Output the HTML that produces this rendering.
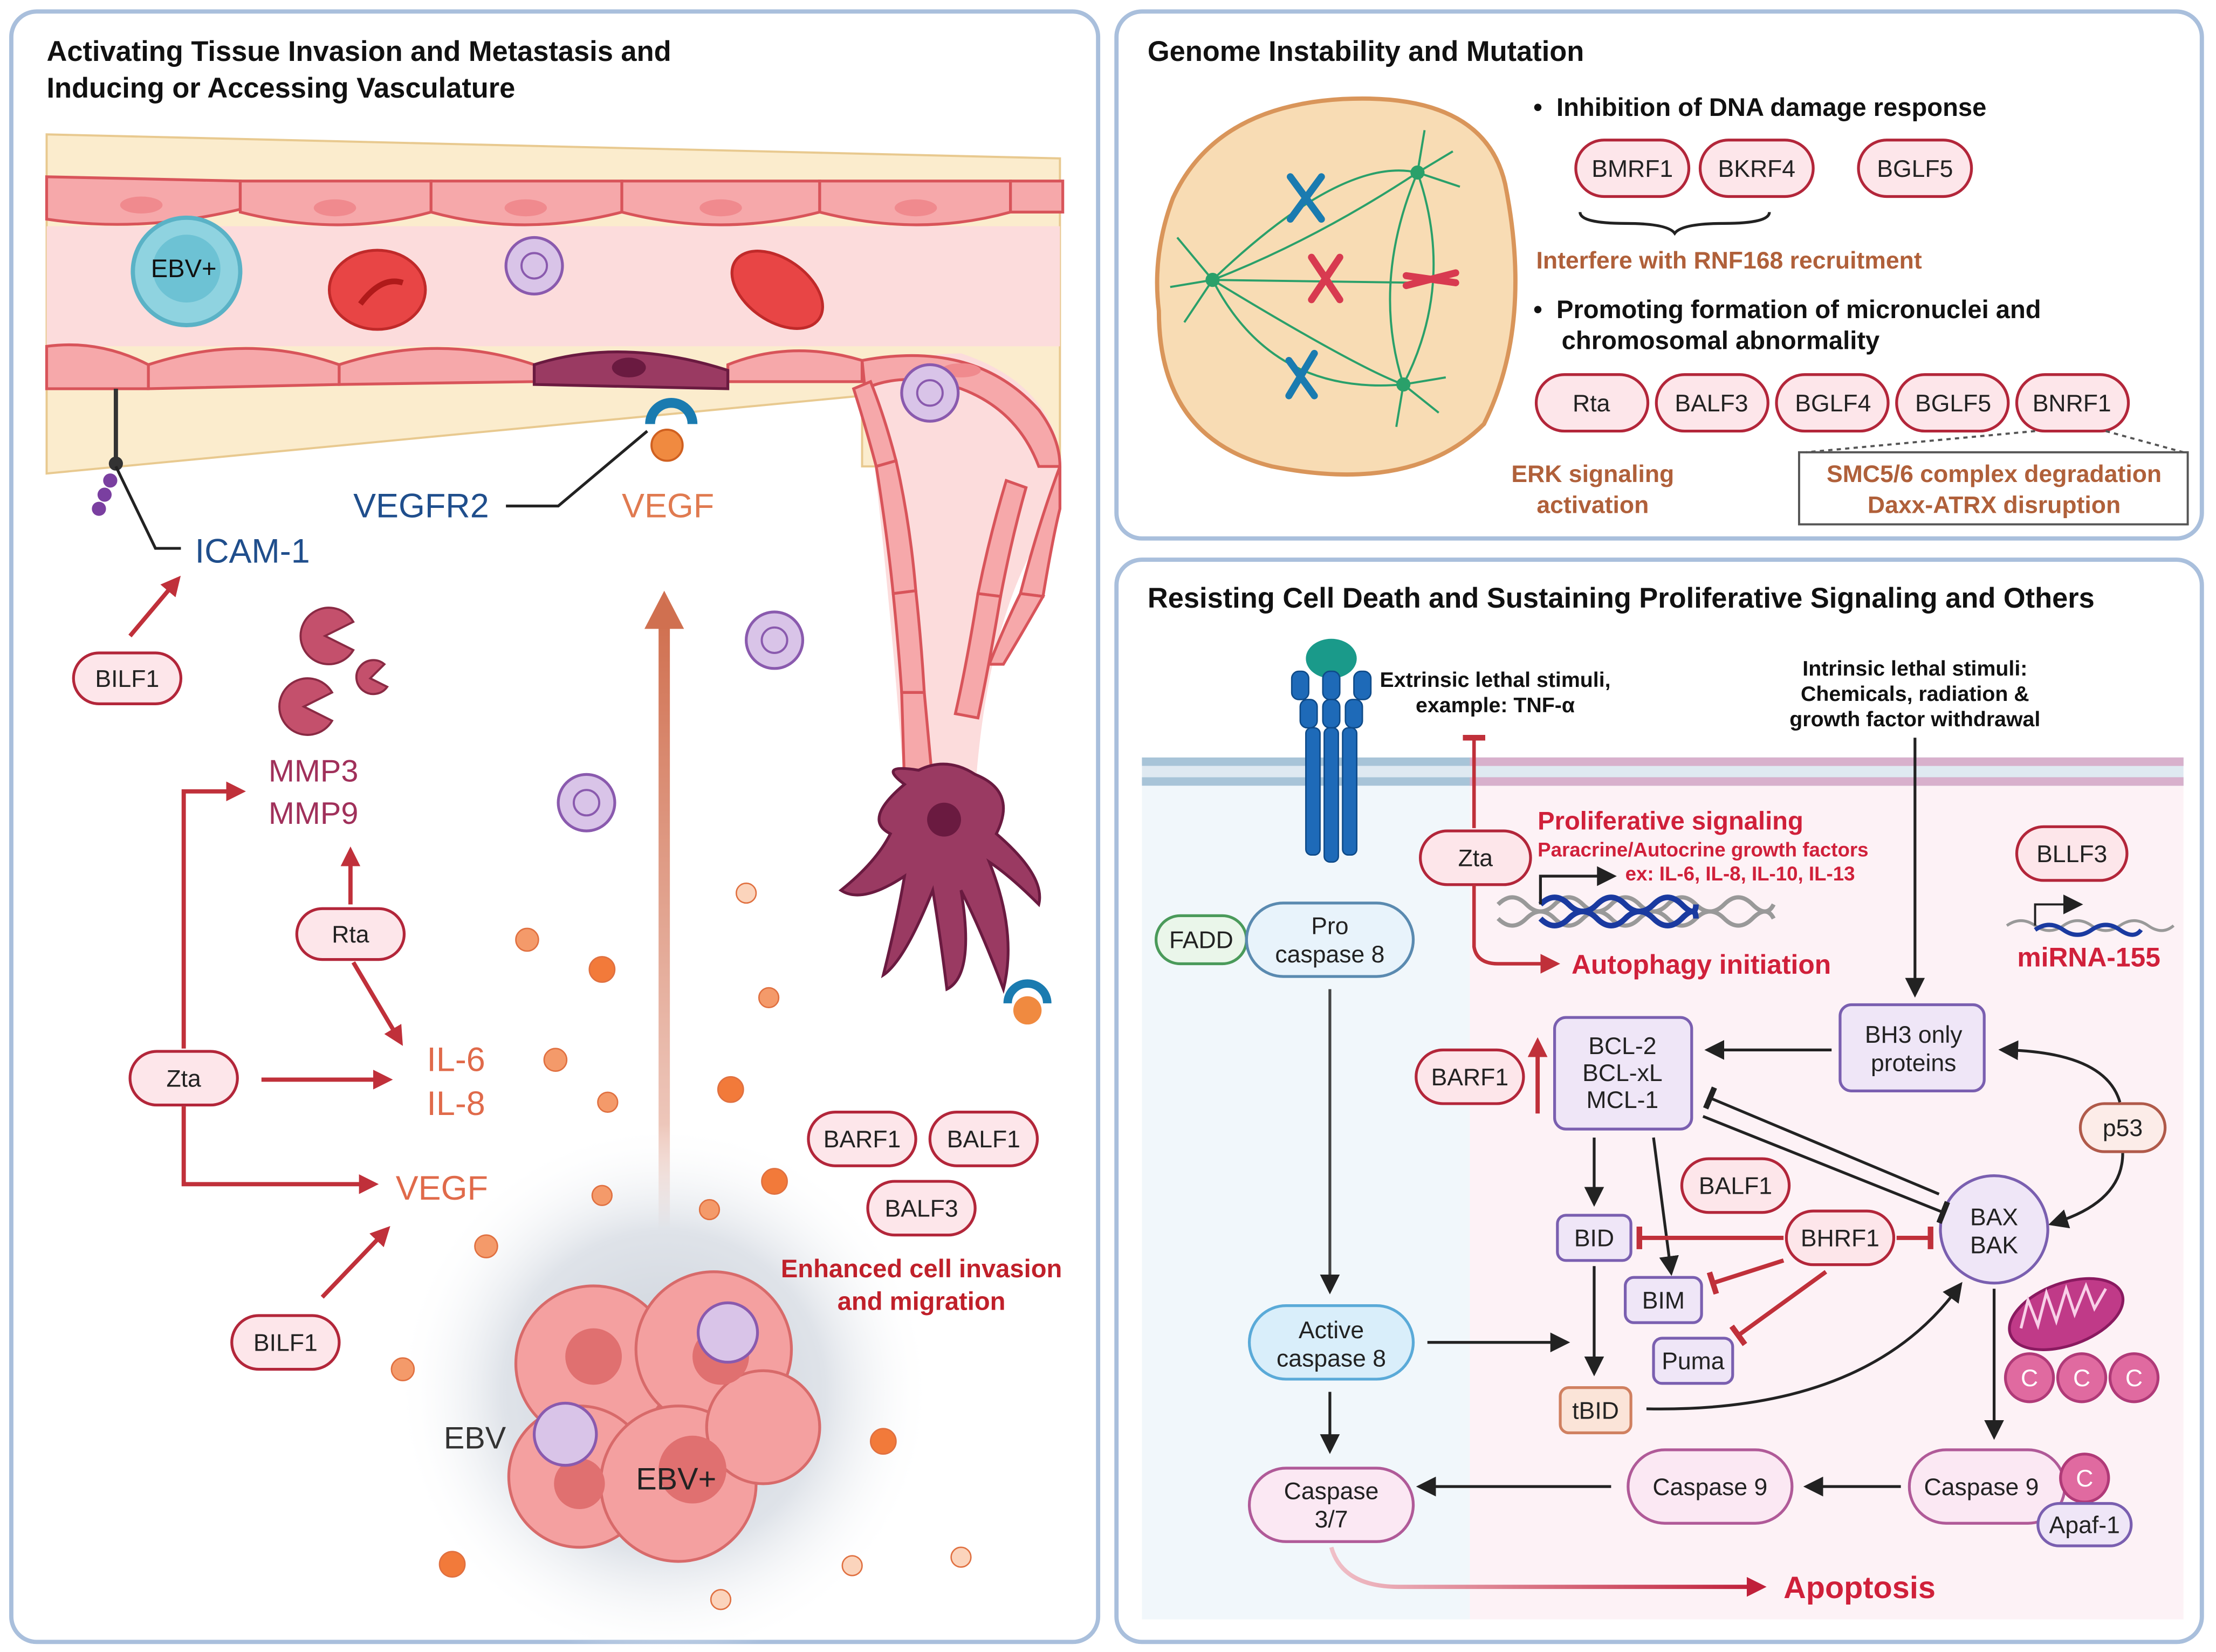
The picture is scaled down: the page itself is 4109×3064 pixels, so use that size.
<!DOCTYPE html>
<html><head><meta charset="utf-8"><style>
html,body{margin:0;padding:0;background:#fff;}
svg{display:block;}
text{font-family:"Liberation Sans",Arial,sans-serif;}
.t{font-weight:bold;font-size:20px;fill:#111;}
.pl{fill:#fde6ea;stroke:#b3263a;stroke-width:2;}
.pt{font-size:17px;fill:#222;text-anchor:middle;}
.ar{stroke:#c0303a;stroke-width:3;fill:none;}
.bk{stroke:#222;stroke-width:2;fill:none;}
.bx{fill:#efe6f7;stroke:#7a5fb0;stroke-width:2;}
</style></head><body>
<svg width="4109" height="3064" viewBox="0 0 1568 1169" xmlns="http://www.w3.org/2000/svg">
<defs>
<marker id="ra2" markerWidth="14" markerHeight="14" refX="8" refY="7" orient="auto" markerUnits="userSpaceOnUse"><path d="M0,0 L14,7 L0,14z" fill="#c0303a"/></marker>
<marker id="ba" markerWidth="14" markerHeight="14" refX="8" refY="7" orient="auto" markerUnits="userSpaceOnUse"><path d="M0,0 L14,7 L0,14z" fill="#222"/></marker>
<marker id="rt" markerWidth="4" markerHeight="16" refX="2" refY="8" orient="auto" markerUnits="userSpaceOnUse"><rect x="0" y="0" width="4" height="16" fill="#c0303a"/></marker>
<marker id="bt" markerWidth="4" markerHeight="16" refX="2" refY="8" orient="auto" markerUnits="userSpaceOnUse"><rect x="0" y="0" width="4" height="16" fill="#222"/></marker>
<radialGradient id="halo"><stop offset="0" stop-color="#c9cfd8"/><stop offset="0.6" stop-color="#dfe3e9"/><stop offset="1" stop-color="#fff" stop-opacity="0"/></radialGradient>
<linearGradient id="bigar" x1="0" y1="1" x2="0" y2="0"><stop offset="0" stop-color="#d9846a" stop-opacity="0.3"/><stop offset="1" stop-color="#d07050"/></linearGradient>
<linearGradient id="apo" x1="0" x2="1"><stop offset="0" stop-color="#f0c0c8"/><stop offset="1" stop-color="#c0203a"/></linearGradient>
</defs>
<rect width="1568" height="1169" fill="#fff"/>
<rect x="8" y="8" width="769" height="1154" rx="18" fill="#fff" stroke="#a9bfdc" stroke-width="3"/>
<rect x="790" y="8" width="768" height="373" rx="18" fill="#fff" stroke="#a9bfdc" stroke-width="3"/>
<rect x="790" y="396" width="768" height="766" rx="18" fill="#fff" stroke="#a9bfdc" stroke-width="3"/>

<text class="t" x="33" y="43">Activating Tissue Invasion and Metastasis and</text>
<text class="t" x="33" y="69">Inducing or Accessing Vasculature</text>
<path d="M33,95 Q400,105 750,112 L750,330 L610,330 L610,280 Q400,300 33,335 Z" fill="#fbeccd" stroke="#e8c98f" stroke-width="1.5"/>
<rect x="33" y="160" width="717" height="85" fill="#fcdcdc"/>
<!-- vertical vessel lumen -->
<path d="M612,270 Q640,250 680,250 Q740,270 750,320 L750,360 Q700,420 690,560 L640,560 Q630,420 612,270Z" fill="#fcdcdc"/>
<g fill="#f6a8aa" stroke="#d8545a" stroke-width="2">
<path d="M33,125 L170,128 L170,148 Q100,165 33,155Z"/><path d="M170,128 L305,128 L305,150 Q240,168 170,150Z"/>
<path d="M305,128 L440,128 L440,150 Q370,168 305,150Z"/><path d="M440,128 L580,128 L580,150 Q510,168 440,150Z"/>
<path d="M580,128 L715,128 L715,150 Q650,168 580,150Z"/><path d="M715,128 L752,128 L752,150 L715,150Z"/>
</g>
<g fill="#f08a8e"><ellipse cx="100" cy="145" rx="15" ry="6"/><ellipse cx="237" cy="147" rx="15" ry="6"/><ellipse cx="372" cy="147" rx="15" ry="6"/><ellipse cx="510" cy="147" rx="15" ry="6"/><ellipse cx="648" cy="147" rx="15" ry="6"/></g>
<g fill="#f6a8aa" stroke="#d8545a" stroke-width="2">
<path d="M33,245 Q70,240 105,258 L105,275 L33,275Z"/><path d="M105,258 Q175,235 240,258 L240,272 L105,275Z"/>
<path d="M240,258 Q310,235 378,258 L378,270 L240,272Z"/><path d="M515,258 Q560,240 610,255 L610,270 L515,270Z"/>
<path d="M610,255 Q690,240 735,290 Q750,310 750,330 L735,330 Q720,290 680,275 Q640,262 612,275 Z"/>
<!-- left wall cells -->
<path d="M604,275 Q612,300 620,330 L634,326 Q626,295 616,270Z"/>
<path d="M620,330 Q628,380 632,420 L648,418 Q644,370 634,326Z"/>
<path d="M632,420 Q636,460 638,490 L654,490 Q652,455 648,418Z"/>
<path d="M638,490 L640,555 L660,555 L654,490Z"/>
<!-- right wall cells -->
<path d="M750,330 Q735,370 722,420 L738,422 Q745,380 750,360Z"/>
<path d="M712,340 Q700,380 692,420 L708,422 Q716,380 726,345Z"/>
<path d="M692,420 Q684,470 676,505 L692,508 Q700,470 708,422Z"/>
<path d="M722,420 Q712,440 700,470 L710,470 Q725,445 738,422Z"/>
</g>
<ellipse cx="680" cy="262" rx="14" ry="5" fill="#f08a8e"/>
<path d="M378,258 Q440,238 515,262 L515,275 L378,272Z" fill="#9a3a62" stroke="#6a1a40" stroke-width="2"/>
<ellipse cx="445" cy="260" rx="12" ry="7" fill="#6a1a40"/>
<circle cx="132" cy="192" r="38" fill="#8fd3e0" stroke="#5ab2c6" stroke-width="3"/>
<circle cx="132" cy="190" r="24" fill="#6dc2d4"/>
<text x="130" y="196" font-size="18" text-anchor="middle" fill="#111">EBV+</text>
<ellipse cx="267" cy="205" rx="34" ry="28" fill="#e84545" stroke="#c02a2a" stroke-width="2"/>
<path d="M255,215 Q270,195 285,200" stroke="#b01a1a" stroke-width="4" fill="none"/>
<ellipse cx="550" cy="205" rx="36" ry="22" transform="rotate(35 550 205)" fill="#e84545" stroke="#c02a2a" stroke-width="2"/>
<g fill="#d9c4e8" stroke="#8a5aae" stroke-width="2">
<circle cx="378" cy="188" r="20"/><circle cx="658" cy="278" r="20"/><circle cx="548" cy="453" r="20"/><circle cx="415" cy="568" r="20"/>
</g>
<g fill="none" stroke="#8a5aae" stroke-width="1.5">
<circle cx="378" cy="188" r="9"/><circle cx="658" cy="278" r="9"/><circle cx="548" cy="453" r="9"/><circle cx="415" cy="568" r="9"/>
</g>
<line x1="82" y1="275" x2="82" y2="330" stroke="#333" stroke-width="3"/>
<circle cx="82" cy="328" r="5" fill="#333"/>
<circle cx="78" cy="340" r="5" fill="#7a3fa0"/><circle cx="74" cy="350" r="5" fill="#7a3fa0"/><circle cx="70" cy="360" r="5" fill="#7a3fa0"/>
<path d="M82,330 L110,388 L128,388" class="bk"/>
<text x="138" y="398" font-size="24" fill="#1f4e8c">ICAM-1</text>
<path d="M460,300 A15,15 0 1,1 490,300" fill="none" stroke="#1a7bb0" stroke-width="7"/>
<circle cx="472" cy="315" r="11" fill="#f08a40" stroke="#d06020" stroke-width="1.5"/>
<path d="M458,305 L395,358 L358,358" class="bk"/>
<text x="250" y="366" font-size="24" fill="#1f4e8c">VEGFR2</text>
<text x="440" y="366" font-size="24" fill="#e07a50">VEGF</text>
<path d="M640,555 Q620,540 650,545 Q670,535 690,548 Q720,560 705,590 Q740,620 735,640 Q715,620 700,610 Q720,660 710,700 Q695,660 680,630 Q690,690 670,700 Q665,660 660,630 Q640,680 625,690 Q635,650 640,620 Q610,640 595,630 Q620,610 630,590 Q610,580 640,555Z" fill="#9a3a62" stroke="#6a1a40" stroke-width="2"/>
<circle cx="668" cy="580" r="12" fill="#6a1a40"/>
<path d="M713,710 A14,14 0 1,1 741,710" fill="none" stroke="#1a7bb0" stroke-width="6"/>
<circle cx="727" cy="715" r="10" fill="#f08a40"/>
<g fill="#c4506c" stroke="#8a2a44" stroke-width="1.5">
<path d="M230,450 L250,440 A20,20 0 1,0 250,460Z"/><path d="M215,500 L235,490 A20,20 0 1,0 235,510Z"/><path d="M262,480 L272,470 A12,12 0 1,0 274,486Z"/>
</g>
<text x="190" y="553" font-size="22" fill="#a0305a">MMP3</text>
<text x="190" y="583" font-size="22" fill="#a0305a">MMP9</text>
<g><rect class="pl" x="52" y="462" width="76" height="36" rx="18"/><text class="pt" x="90" y="486">BILF1</text></g>
<g><rect class="pl" x="210" y="643" width="76" height="36" rx="18"/><text class="pt" x="248" y="667">Rta</text></g>
<g><rect class="pl" x="92" y="744" width="76" height="38" rx="19"/><text class="pt" x="130" y="769">Zta</text></g>
<g><rect class="pl" x="164" y="931" width="76" height="38" rx="19"/><text class="pt" x="202" y="956">BILF1</text></g>
<text x="302" y="758" font-size="24" fill="#e06a4a">IL-6</text>
<text x="302" y="789" font-size="24" fill="#e06a4a">IL-8</text>
<text x="280" y="849" font-size="24" fill="#e06a4a">VEGF</text>
<line class="ar" x1="92" y1="450" x2="124" y2="412" marker-end="url(#ra2)"/>
<line class="ar" x1="248" y1="640" x2="248" y2="605" marker-end="url(#ra2)"/>
<line class="ar" x1="250" y1="681" x2="282" y2="735" marker-end="url(#ra2)"/>
<path class="ar" d="M130,742 L130,560 L168,560" marker-end="url(#ra2)"/>
<line class="ar" x1="185" y1="764" x2="272" y2="764" marker-end="url(#ra2)"/>
<path class="ar" d="M130,783 L130,838 L262,838" marker-end="url(#ra2)"/>
<line class="ar" x1="228" y1="918" x2="272" y2="872" marker-end="url(#ra2)"/>
<rect x="466" y="440" width="8" height="450" fill="url(#bigar)"/>
<path d="M456,445 L470,418 L484,445Z" fill="#d07050"/>
<circle cx="470" cy="985" r="190" fill="url(#halo)"/>
<g fill="#f4a0a0" stroke="#d86a6a" stroke-width="2">
<circle cx="420" cy="965" r="55"/><circle cx="505" cy="955" r="55"/><circle cx="410" cy="1045" r="50"/><circle cx="480" cy="1050" r="55"/><circle cx="540" cy="1010" r="40"/>
</g>
<g fill="#e07070"><circle cx="420" cy="960" r="20"/><circle cx="510" cy="960" r="20"/><circle cx="490" cy="1040" r="24"/><circle cx="410" cy="1050" r="18"/></g>
<circle cx="515" cy="943" r="21" fill="#d9c4e8" stroke="#8a5aae" stroke-width="2"/>
<circle cx="400" cy="1015" r="22" fill="#d9c4e8" stroke="#8a5aae" stroke-width="2"/>
<text x="314" y="1025" font-size="22" fill="#333">EBV</text>
<text x="450" y="1054" font-size="22" fill="#222">EBV+</text>
<g><rect class="pl" x="572" y="787" width="76" height="38" rx="19"/><text class="pt" x="610" y="812">BARF1</text></g>
<g><rect class="pl" x="658" y="787" width="76" height="38" rx="19"/><text class="pt" x="696" y="812">BALF1</text></g>
<g><rect class="pl" x="614" y="836" width="76" height="38" rx="19"/><text class="pt" x="652" y="861">BALF3</text></g>
<text x="652" y="904" font-size="18" font-weight="bold" fill="#c0202a" text-anchor="middle">Enhanced cell invasion</text>
<text x="652" y="927" font-size="18" font-weight="bold" fill="#c0202a" text-anchor="middle">and migration</text>
<g fill="#f49a6a" stroke="#e07040" stroke-width="1">
<circle cx="528" cy="632" r="7" fill="#fbd4bc"/><circle cx="373" cy="665" r="8"/><circle cx="426" cy="686" r="9" fill="#f27a3a"/><circle cx="544" cy="706" r="7"/>
<circle cx="393" cy="750" r="8"/><circle cx="517" cy="771" r="9" fill="#f27a3a"/><circle cx="430" cy="780" r="7"/><circle cx="548" cy="836" r="9" fill="#f27a3a"/>
<circle cx="426" cy="846" r="7"/><circle cx="502" cy="856" r="7"/><circle cx="344" cy="882" r="8"/><circle cx="285" cy="969" r="8"/>
<circle cx="625" cy="1020" r="9" fill="#f27a3a"/><circle cx="320" cy="1107" r="9" fill="#f27a3a"/><circle cx="603" cy="1108" r="7" fill="#fbd4bc"/><circle cx="680" cy="1102" r="7" fill="#fbd4bc"/><circle cx="510" cy="1132" r="7" fill="#fbd4bc"/>
</g>

<text class="t" x="812" y="43">Genome Instability and Mutation</text>
<path d="M830,140 Q860,75 950,70 Q1050,65 1065,130 Q1085,230 1050,300 Q1000,350 900,330 Q820,310 820,220 Q815,180 830,140Z" fill="#f8dcb4" stroke="#d9955a" stroke-width="3"/>
<g stroke="#2aa06a" stroke-width="1.5" fill="none">
<path d="M858,198 Q950,110 1003,122"/><path d="M858,198 Q930,170 1003,122"/><path d="M858,198 Q960,260 993,272"/><path d="M858,198 Q900,280 993,272"/>
<path d="M1003,122 Q1030,200 993,272"/><path d="M1003,122 Q970,200 993,272"/><path d="M858,198 L1003,200"/>
<path d="M858,198 l-25,-30 M858,198 l-30,5 M858,198 l-20,30 M1003,122 l25,-15 M1003,122 l30,10 M1003,122 l5,-30 M993,272 l25,20 M993,272 l-5,30 M993,272 l30,-5"/>
</g>
<circle cx="858" cy="198" r="5" fill="#2aa06a"/><circle cx="1003" cy="122" r="5" fill="#2aa06a"/><circle cx="993" cy="272" r="5" fill="#2aa06a"/>
<g stroke-width="5" stroke-linecap="round">
<path d="M913,125 L935,155 M935,125 L913,155" stroke="#1a7bb0"/><path d="M928,182 L948,212 M948,182 L928,212" stroke="#d83a50"/>
<path d="M995,195 L1030,200 M995,202 L1030,193" stroke="#d83a50"/><path d="M912,255 L930,280 M930,250 L912,280" stroke="#1a7bb0"/>
</g>
<text x="1085" y="82" font-size="18" font-weight="bold" fill="#111">•&#160;&#160;Inhibition of DNA damage response</text>
<g><rect class="pl" x="1115" y="99" width="80" height="40" rx="20"/><text class="pt" x="1155" y="125">BMRF1</text></g>
<g><rect class="pl" x="1203" y="99" width="80" height="40" rx="20"/><text class="pt" x="1243" y="125">BKRF4</text></g>
<g><rect class="pl" x="1315" y="99" width="80" height="40" rx="20"/><text class="pt" x="1355" y="125">BGLF5</text></g>
<path d="M1118,150 Q1118,158 1150,158 Q1180,158 1185,165 Q1190,158 1220,158 Q1252,158 1252,150" fill="none" stroke="#222" stroke-width="2"/>
<text x="1087" y="190" font-size="17" font-weight="bold" fill="#b0603a">Interfere with RNF168 recruitment</text>
<text x="1085" y="225" font-size="18" font-weight="bold" fill="#111">•&#160;&#160;Promoting formation of micronuclei and</text>
<text x="1105" y="247" font-size="18" font-weight="bold" fill="#111">chromosomal abnormality</text>
<g><rect class="pl" x="1087" y="265" width="79" height="40" rx="20"/><text class="pt" x="1126" y="291">Rta</text></g>
<g><rect class="pl" x="1172" y="265" width="79" height="40" rx="20"/><text class="pt" x="1211" y="291">BALF3</text></g>
<g><rect class="pl" x="1257" y="265" width="79" height="40" rx="20"/><text class="pt" x="1297" y="291">BGLF4</text></g>
<g><rect class="pl" x="1342" y="265" width="79" height="40" rx="20"/><text class="pt" x="1382" y="291">BGLF5</text></g>
<g><rect class="pl" x="1427" y="265" width="79" height="40" rx="20"/><text class="pt" x="1466" y="291">BNRF1</text></g>
<text x="1127" y="341" font-size="17" font-weight="bold" fill="#b0603a" text-anchor="middle">ERK signaling</text>
<text x="1127" y="363" font-size="17" font-weight="bold" fill="#b0603a" text-anchor="middle">activation</text>
<rect x="1273" y="320" width="275" height="51" fill="#fff" stroke="#555" stroke-width="1.5"/>
<path d="M1440,305 L1278,320 M1490,305 L1545,320" stroke="#555" stroke-width="1.5" stroke-dasharray="3,3"/>
<text x="1411" y="341" font-size="17" font-weight="bold" fill="#b0603a" text-anchor="middle">SMC5/6 complex degradation</text>
<text x="1411" y="363" font-size="17" font-weight="bold" fill="#b0603a" text-anchor="middle">Daxx-ATRX disruption</text>

<text class="t" x="812" y="430">Resisting Cell Death and Sustaining Proliferative Signaling and Others</text>
<rect x="808" y="556" width="232" height="590" fill="#f1f7fb"/>
<rect x="1040" y="556" width="505" height="590" fill="#fdf2f6"/>
<rect x="808" y="536" width="737" height="6" fill="#a8c4d8"/>
<rect x="808" y="542" width="737" height="8" fill="#dfe9f1"/>
<rect x="808" y="550" width="737" height="6" fill="#a8c4d8"/>
<rect x="1040" y="536" width="505" height="6" fill="#d8b0cc"/><rect x="1040" y="550" width="505" height="6" fill="#d8b0cc"/>
<ellipse cx="942" cy="466" rx="18" ry="14" fill="#1a9a8a"/>
<g fill="#1e6ab8" stroke="#0e4a88" stroke-width="1">
<rect x="914" y="475" width="12" height="20" rx="5"/><rect x="936" y="475" width="12" height="20" rx="5"/><rect x="958" y="475" width="12" height="20" rx="5"/>
<rect x="920" y="495" width="12" height="20" rx="5"/><rect x="936" y="495" width="12" height="20" rx="5"/><rect x="952" y="495" width="12" height="20" rx="5"/>
<rect x="924" y="515" width="10" height="90" rx="4"/><rect x="937" y="515" width="10" height="95" rx="4"/><rect x="950" y="515" width="10" height="90" rx="4"/>
</g>
<text x="1058" y="486" font-size="15" font-weight="bold" fill="#111" text-anchor="middle">Extrinsic lethal stimuli,</text>
<text x="1058" y="504" font-size="15" font-weight="bold" fill="#111" text-anchor="middle">example: TNF-α</text>
<text x="1355" y="478" font-size="15" font-weight="bold" fill="#111" text-anchor="middle">Intrinsic lethal stimuli:</text>
<text x="1355" y="496" font-size="15" font-weight="bold" fill="#111" text-anchor="middle">Chemicals, radiation &amp;</text>
<text x="1355" y="514" font-size="15" font-weight="bold" fill="#111" text-anchor="middle">growth factor withdrawal</text>
<path d="M1043,586 L1043,522" stroke="#c0303a" stroke-width="2.5" marker-end="url(#rt)"/>
<g><rect class="pl" x="1005" y="588" width="78" height="38" rx="19"/><text class="pt" x="1044" y="613">Zta</text></g>
<text x="1088" y="587" font-size="18" font-weight="bold" fill="#d0203a">Proliferative signaling</text>
<text x="1088" y="606" font-size="14" font-weight="bold" fill="#d0203a">Paracrine/Autocrine growth factors</text>
<text x="1150" y="623" font-size="14" font-weight="bold" fill="#d0203a">ex: IL-6, IL-8, IL-10, IL-13</text>
<path d="M1060,640 Q1070,630 1080,640 T1100,640 T1120,640 T1140,640 T1160,640 T1180,640 T1200,640 T1220,640 T1240,640 T1255,640" stroke="#999" stroke-width="3" fill="none"/>
<path d="M1060,650 Q1070,660 1080,650 T1100,650 T1120,650 T1140,650 T1160,650 T1180,650 T1200,650 T1220,650 T1240,650 T1255,650" stroke="#999" stroke-width="3" fill="none"/>
<path d="M1090,640 Q1100,630 1110,640 T1130,640 T1150,640 T1170,640 T1190,640 T1200,640" stroke="#1a3aa0" stroke-width="4" fill="none"/>
<path d="M1090,650 Q1100,660 1110,650 T1130,650 T1150,650 T1170,650 T1190,650 T1200,650" stroke="#1a3aa0" stroke-width="4" fill="none"/>
<path d="M1090,640 L1090,620 L1138,620" class="bk" marker-end="url(#ba)"/>
<path d="M1043,626 L1043,670 Q1045,682 1060,682 L1098,682" stroke="#c0303a" stroke-width="2.5" fill="none" marker-end="url(#ra2)"/>
<text x="1112" y="689" font-size="19" font-weight="bold" fill="#d0203a">Autophagy initiation</text>
<g><rect class="pl" x="1427" y="585" width="78" height="38" rx="19"/><text class="pt" x="1466" y="610">BLLF3</text></g>
<path d="M1420,655 Q1430,648 1440,655 T1460,655 T1480,655 T1500,655 T1520,655 T1538,655" stroke="#999" stroke-width="2" fill="none"/>
<path d="M1440,658 Q1450,651 1460,658 T1480,658 T1500,658 T1515,658" stroke="#1a3aa0" stroke-width="3" fill="none"/>
<path d="M1440,655 L1440,640 L1468,640" stroke="#222" stroke-width="1.5" fill="none" marker-end="url(#ba)"/>
<text x="1478" y="684" font-size="19" font-weight="bold" fill="#d0203a" text-anchor="middle">miRNA-155</text>
<line x1="1355" y1="522" x2="1355" y2="700" class="bk" marker-end="url(#ba)"/>
<rect x="818" y="648" width="64" height="34" rx="17" fill="#eaf6ea" stroke="#4a9a5a" stroke-width="2"/><text class="pt" x="850" y="671">FADD</text>
<rect x="882" y="639" width="118" height="52" rx="26" fill="#e8f3fb" stroke="#5a8ab0" stroke-width="2"/>
<text class="pt" x="941" y="661" fill="#333">Pro</text><text class="pt" x="941" y="681" fill="#333">caspase 8</text>
<line x1="941" y1="700" x2="941" y2="910" stroke="#444" stroke-width="2" marker-end="url(#ba)"/>
<rect class="bx" x="1100" y="720" width="97" height="79" rx="8"/>
<text class="pt" x="1148" y="746">BCL-2</text><text class="pt" x="1148" y="765">BCL-xL</text><text class="pt" x="1148" y="784">MCL-1</text>
<rect class="bx" x="1302" y="711" width="102" height="61" rx="8" fill="#f7e6f3" stroke="#b070b0"/>
<text class="pt" x="1354" y="738">BH3 only</text><text class="pt" x="1354" y="758">proteins</text>
<line x1="1296" y1="743" x2="1212" y2="743" class="bk" marker-end="url(#ba)"/>
<g><rect class="pl" x="1002" y="743" width="76" height="38" rx="19"/><text class="pt" x="1040" y="768">BARF1</text></g>
<line x1="1088" y1="788" x2="1088" y2="740" stroke="#c0303a" stroke-width="3" marker-end="url(#ra2)"/>
<rect x="1472" y="781" width="60" height="34" rx="17" fill="#fcece8" stroke="#b05a4a" stroke-width="2"/><text class="pt" x="1502" y="804" fill="#b05a4a">p53</text>
<path d="M1500,780 Q1490,745 1420,743" class="bk" marker-end="url(#ba)"/>
<path d="M1502,816 Q1502,850 1455,865" class="bk" marker-end="url(#ba)"/>
<circle cx="1411" cy="870" r="38" fill="#efe6f7" stroke="#7a5fb0" stroke-width="2"/>
<text class="pt" x="1411" y="867">BAX</text><text class="pt" x="1411" y="887">BAK</text>
<line x1="1372" y1="845" x2="1210" y2="777" class="bk" marker-end="url(#bt)"/>
<line x1="1205" y1="790" x2="1375" y2="858" class="bk" marker-end="url(#bt)"/>
<line x1="1128" y1="805" x2="1128" y2="848" class="bk" marker-end="url(#ba)"/>
<line x1="1170" y1="805" x2="1182" y2="897" class="bk" marker-end="url(#ba)"/>
<g><rect class="pl" x="1190" y="820" width="76" height="38" rx="19"/><text class="pt" x="1228" y="845">BALF1</text></g>
<rect class="bx" x="1102" y="860" width="52" height="32" rx="6"/><text class="pt" x="1128" y="882">BID</text>
<g><rect class="pl" x="1264" y="857" width="76" height="38" rx="19"/><text class="pt" x="1302" y="882">BHRF1</text></g>
<line x1="1262" y1="876" x2="1160" y2="876" stroke="#c0303a" stroke-width="3" marker-end="url(#rt)"/>
<line x1="1342" y1="876" x2="1366" y2="876" stroke="#c0303a" stroke-width="3" marker-end="url(#rt)"/>
<line x1="1262" y1="892" x2="1212" y2="908" stroke="#c0303a" stroke-width="3" marker-end="url(#rt)"/>
<line x1="1292" y1="900" x2="1230" y2="945" stroke="#c0303a" stroke-width="3" marker-end="url(#rt)"/>
<rect class="bx" x="1150" y="904" width="54" height="32" rx="6"/><text class="pt" x="1177" y="926">BIM</text>
<rect class="bx" x="1170" y="947" width="56" height="32" rx="6"/><text class="pt" x="1198" y="969">Puma</text>
<line x1="1128" y1="896" x2="1128" y2="968" class="bk" marker-end="url(#ba)"/>
<rect x="1104" y="982" width="50" height="32" rx="6" fill="#fbe4d8" stroke="#d08060" stroke-width="2"/><text class="pt" x="1129" y="1004">tBID</text>
<path d="M1165,997 Q1320,1000 1385,912" class="bk" marker-end="url(#ba)"/>
<rect x="884" y="924" width="116" height="52" rx="26" fill="#d9eefa" stroke="#5aaad8" stroke-width="2"/>
<text class="pt" x="942" y="947" fill="#333">Active</text><text class="pt" x="942" y="967" fill="#333">caspase 8</text>
<line x1="1010" y1="950" x2="1105" y2="950" class="bk" marker-end="url(#ba)"/>
<line x1="941" y1="985" x2="941" y2="1023" class="bk" marker-end="url(#ba)"/>
<line x1="1411" y1="912" x2="1411" y2="1013" class="bk" marker-end="url(#ba)"/>
<ellipse cx="1462" cy="930" rx="42" ry="22" transform="rotate(-20 1462 930)" fill="#c03a88" stroke="#8a1a60" stroke-width="2"/>
<path d="M1430,940 L1435,920 L1442,938 L1448,915 L1455,935 L1462,912 L1468,930 L1476,910 L1482,926 L1490,912" stroke="#f8d0e8" stroke-width="2" fill="none"/>
<g fill="#e06aa0" stroke="#b03a78" stroke-width="2"><circle cx="1436" cy="975" r="17"/><circle cx="1473" cy="975" r="17"/><circle cx="1510" cy="975" r="17"/></g>
<g font-size="17" fill="#fff" text-anchor="middle"><text x="1436" y="981">C</text><text x="1473" y="981">C</text><text x="1510" y="981">C</text></g>
<rect x="1351" y="1026" width="110" height="52" rx="26" fill="#fbe8f3" stroke="#b05a98" stroke-width="2"/><text class="pt" x="1402" y="1058">Caspase 9</text>
<circle cx="1475" cy="1046" r="17" fill="#e06aa0" stroke="#b03a78" stroke-width="2"/><text x="1475" y="1052" font-size="17" fill="#fff" text-anchor="middle">C</text>
<rect x="1442" y="1064" width="66" height="30" rx="15" fill="#efe6f7" stroke="#7a5fb0" stroke-width="2"/><text class="pt" x="1475" y="1085">Apaf-1</text>
<line x1="1345" y1="1052" x2="1282" y2="1052" class="bk" marker-end="url(#ba)"/>
<rect x="1152" y="1026" width="116" height="52" rx="26" fill="#fbe8f3" stroke="#b05a98" stroke-width="2"/><text class="pt" x="1210" y="1058">Caspase 9</text>
<line x1="1140" y1="1052" x2="1008" y2="1052" class="bk" marker-end="url(#ba)"/>
<rect x="884" y="1039" width="116" height="52" rx="26" fill="#fbe8f3" stroke="#b05a98" stroke-width="2"/>
<text class="pt" x="942" y="1061">Caspase</text><text class="pt" x="942" y="1081">3/7</text>
<path d="M942,1095 Q950,1123 990,1123 L1240,1123" stroke="url(#apo)" stroke-width="3" fill="none"/>
<path d="M1236,1116 L1250,1123 L1236,1130Z" fill="#c0203a"/>
<text x="1262" y="1131" font-size="22" font-weight="bold" fill="#d0203a">Apoptosis</text>
</svg>
</body></html>
